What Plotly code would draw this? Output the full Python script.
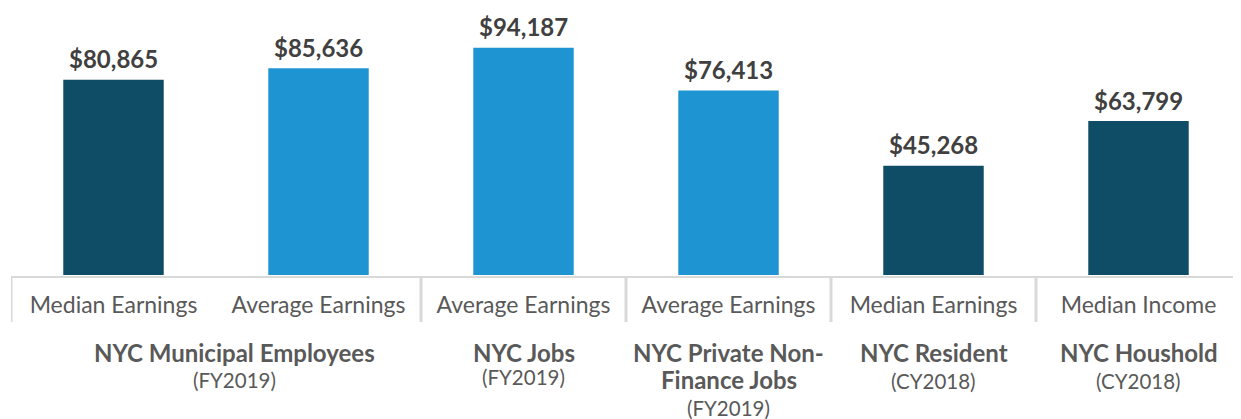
import plotly.graph_objects as go

# Data
measures = ["Median Earnings", "Average Earnings", "Average Earnings",
            "Average Earnings", "Median Earnings", "Median Income"]
values = [80865, 85636, 94187, 76413, 45268, 63799]
value_labels = ["$80,865", "$85,636", "$94,187", "$76,413", "$45,268", "$63,799"]
bar_colors = ["#0F4C66", "#1F94D3", "#1F94D3", "#1F94D3", "#0F4C66", "#0F4C66"]

group_name_lines = [["NYC Municipal Employees"], ["NYC Jobs"],
                    ["NYC Private Non-", "Finance Jobs"],
                    ["NYC Resident"], ["NYC Houshold"]]
group_periods = ["(FY2019)", "(FY2019)", "(FY2019)", "(CY2018)", "(CY2018)"]
group_centers = [0.59, 2, 3, 4, 5]
group_boundaries = [-0.5, 1.5, 2.5, 3.5, 4.5, 5.47]

# Page body has an 8px margin; figure is sized to fit the window
W, H = 1233, 411
T, B, L, R = 0, 144, 3, 0
PH = H - T - B  # plot height in px

xs = list(range(len(values)))

fig = go.Figure()
fig.add_trace(go.Bar(
    x=xs, y=values, marker=dict(color=bar_colors, line=dict(width=0)),
    width=0.49, hoverinfo="skip", showlegend=False,
))

ann = []
for xi, v, t in zip(xs, values, value_labels):
    ann.append(dict(x=xi, y=v, xref="x", yref="y", text=t, showarrow=False,
                    yanchor="middle", yshift=21,
                    font=dict(family="Lato", size=24, color="#404040", weight="bold")))

# vertical offsets (px below the bar baseline)
name_offsets = [[77], [77], [77, 104], [77], [77]]
period_offsets = [105, 102, 133, 106, 106]
for gx, lines, offs, per, poff in zip(group_centers, group_name_lines, name_offsets,
                                      group_periods, period_offsets):
    for line, off in zip(lines, offs):
        ann.append(dict(x=gx, y=0, xref="x", yref="paper", text="<b>" + line + "</b>",
                        showarrow=False, yanchor="middle", yshift=-off,
                        font=dict(family="Lato", size=24, color="#595959")))
    ann.append(dict(x=gx, y=0, xref="x", yref="paper", text=per,
                    showarrow=False, yanchor="middle", yshift=-poff,
                    font=dict(family="Lato", size=20.5, color="#595959")))

shapes = []
for bx in group_boundaries:
    shapes.append(dict(type="line", xref="x", yref="paper", x0=bx, x1=bx,
                       y0=-1 / PH, y1=-47 / PH, line=dict(color="#D9D9D9", width=3)))
shapes.append(dict(type="line", xref="x", yref="paper", x0=-0.5, x1=5.485,
                   y0=-2 / PH, y1=-2 / PH, line=dict(color="#D9D9D9", width=2)))

fig.update_layout(
    width=W, height=H,
    margin=dict(t=T, b=B, l=L, r=R, pad=0),
    paper_bgcolor="white", plot_bgcolor="white",
    annotations=ann, shapes=shapes, bargap=0.5,
    xaxis=dict(range=[-0.5, 5.5], tickvals=xs, ticktext=measures,
               showline=False, showgrid=False, zeroline=False, ticks="",
               tickfont=dict(family="Lato", size=23, color="#595959"),
               ticklabelstandoff=14, fixedrange=True),
    yaxis=dict(range=[0, 110640], visible=False, showgrid=False, zeroline=False,
               fixedrange=True),
)

fig.write_html("out.html")
